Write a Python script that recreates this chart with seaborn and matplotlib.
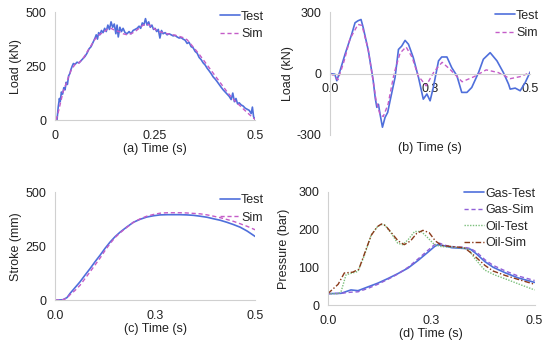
import matplotlib
matplotlib.use("Agg")
import matplotlib.pyplot as plt
import seaborn as sns
import pandas as pd

sns.set_style("white")
plt.rcParams['font.family'] = ['Liberation Sans', 'DejaVu Sans']
plt.rcParams['axes.unicode_minus'] = False

# ---- data ----
# (a) load
a_test_t = [0.005, 0.008, 0.011, 0.013, 0.016, 0.019, 0.022, 0.025, 0.028, 0.031, 0.034, 0.037,
            0.040, 0.043, 0.046, 0.050, 0.055, 0.060, 0.065, 0.070, 0.075, 0.080, 0.085, 0.090,
            0.095, 0.100, 0.103, 0.106, 0.109, 0.112, 0.116, 0.120, 0.124, 0.128, 0.132, 0.136,
            0.140, 0.144, 0.148, 0.152, 0.155, 0.158, 0.162, 0.166, 0.170, 0.175, 0.180, 0.185,
            0.190, 0.195, 0.200, 0.205, 0.210, 0.214, 0.218, 0.222, 0.226, 0.230, 0.234, 0.238,
            0.242, 0.246, 0.250, 0.254, 0.258, 0.262, 0.266, 0.270, 0.275, 0.280, 0.285, 0.290,
            0.295, 0.300, 0.305, 0.310, 0.315, 0.320, 0.325, 0.330, 0.335, 0.340, 0.345, 0.350,
            0.355, 0.360, 0.365, 0.370, 0.375, 0.380, 0.385, 0.390, 0.395, 0.400, 0.405, 0.410,
            0.415, 0.420, 0.425, 0.430, 0.435, 0.440, 0.444, 0.448, 0.452, 0.456, 0.460, 0.465,
            0.470, 0.475, 0.480, 0.485, 0.490, 0.493, 0.496, 0.499]
a_test = [0, 60, 100, 85, 130, 120, 150, 140, 175, 165, 205, 215,
          235, 250, 262, 258, 268, 265, 275, 285, 295, 310, 330, 340,
          360, 380, 395, 375, 405, 395, 415, 405, 425, 410, 440, 420,
          455, 430, 445, 400, 440, 385, 430, 410, 425, 405, 400, 410,
          400, 415, 420, 425, 435, 425, 450, 440, 470, 440, 455, 430,
          440, 420, 425, 410, 420, 380, 415, 400, 405, 395, 400, 395,
          390, 392, 385, 380, 382, 375, 370, 355, 360, 340, 335, 318,
          310, 290, 280, 265, 255, 240, 228, 215, 200, 190, 178, 165,
          152, 140, 130, 120, 110, 95, 125, 85, 100, 75, 80, 70,
          65, 55, 50, 45, 30, 60, 15, 5]
a_sim_t = [0.003, 0.01, 0.02, 0.03, 0.04, 0.05, 0.06, 0.07, 0.08, 0.09, 0.10, 0.11, 0.12,
           0.13, 0.14, 0.15, 0.16, 0.17, 0.18, 0.19, 0.20, 0.21, 0.22, 0.23, 0.24, 0.25,
           0.26, 0.27, 0.28, 0.29, 0.30, 0.31, 0.32, 0.33, 0.34, 0.35, 0.36, 0.37, 0.38,
           0.39, 0.40, 0.41, 0.42, 0.43, 0.44, 0.45, 0.46, 0.47, 0.48, 0.49, 0.50]
a_sim = [0, 50, 130, 180, 230, 258, 265, 285, 315, 345, 375, 395, 405,
         420, 425, 415, 410, 400, 395, 400, 410, 425, 440, 445, 435, 420,
         410, 405, 400, 397, 393, 388, 382, 372, 350, 328, 305, 280, 255,
         230, 205, 180, 155, 130, 108, 88, 70, 52, 35, 18, 3]

# (b) load
b_test_t = [0.0, 0.012, 0.017, 0.025, 0.0375, 0.054, 0.0625, 0.07, 0.0775, 0.083, 0.096, 0.108,
            0.113, 0.117, 0.121, 0.125, 0.131, 0.1375, 0.144, 0.15, 0.1625, 0.171, 0.179, 0.1875,
            0.196, 0.208, 0.221, 0.233, 0.242, 0.25, 0.258, 0.271, 0.279, 0.292, 0.304, 0.317,
            0.329, 0.342, 0.354, 0.371, 0.383, 0.4, 0.417, 0.433, 0.446, 0.45, 0.4625, 0.475,
            0.4875, 0.5]
b_test = [0, -3, -35, 13, 94, 191, 248, 258, 264, 224, 110, -36,
          -120, -165, -150, -198, -262, -214, -190, -133, -19, 118, 134, 162,
          143, 78, -19, -125, -100, -133, -68, 62, 81, 81, 29, -11,
          -92, -92, -68, 5, 70, 102, 62, 5, -52, -76, -71, -84,
          -44, 8]
b_sim_t = [0.0, 0.01, 0.02, 0.035, 0.05, 0.07, 0.08, 0.095, 0.105, 0.115, 0.125, 0.133,
           0.145, 0.16, 0.175, 0.19, 0.205, 0.22, 0.24, 0.26, 0.28, 0.3, 0.33, 0.36,
           0.39, 0.42, 0.45, 0.475, 0.5]
b_sim = [0, -10, -30, 60, 170, 240, 235, 120, 0, -130, -200, -210,
         -150, 0, 100, 130, 80, -10, -60, 10, 55, 20, -40, -15,
         18, 5, -25, -15, 5]

# (c) stroke
c_test_t = [0.0, 0.02, 0.03, 0.0375, 0.05, 0.0625, 0.075, 0.0875, 0.1, 0.1125, 0.125, 0.1375,
            0.15, 0.1625, 0.18, 0.196, 0.213, 0.229, 0.246, 0.2625, 0.28, 0.296, 0.313, 0.329,
            0.346, 0.3625, 0.38, 0.396, 0.413, 0.429, 0.446, 0.4625, 0.48, 0.5]
c_test = [0, 2, 12, 31, 58, 85, 116, 146, 178, 208, 240, 269,
          294, 315, 340, 361, 375, 385, 391, 395, 396, 396, 396, 395,
          393, 389, 384, 377, 370, 361, 350, 338, 320, 295]
c_sim_t = [0.0, 0.02, 0.03, 0.0375, 0.05, 0.0625, 0.075, 0.0875, 0.1, 0.1125, 0.125, 0.1375,
           0.15, 0.1625, 0.18, 0.196, 0.213, 0.229, 0.246, 0.2625, 0.28, 0.296, 0.313, 0.329,
           0.346, 0.3625, 0.38, 0.396, 0.413, 0.429, 0.446, 0.4625, 0.48, 0.5]
c_sim = [0, 2, 10, 25, 45, 69, 100, 131, 163, 195, 230, 262,
         290, 312, 338, 361, 377, 389, 397, 403, 405, 405, 405, 404,
         402, 400, 395, 389, 382, 374, 365, 354, 342, 326]

# (d) pressure
d_gas_test_t = [0.0, 0.032, 0.056, 0.073, 0.097, 0.121, 0.145, 0.169, 0.194, 0.218, 0.242,
                0.258, 0.266, 0.282, 0.3, 0.33, 0.345, 0.36, 0.38, 0.4, 0.43, 0.46, 0.5]
d_gas_test = [30, 31, 40, 38, 48, 58, 70, 83, 98, 118, 140,
              155, 160, 157, 152, 150, 148, 135, 115, 100, 85, 72, 60]
d_gas_sim_t = [0.0, 0.032, 0.056, 0.073, 0.097, 0.121, 0.145, 0.169, 0.194, 0.218, 0.242,
               0.258, 0.27, 0.285, 0.3, 0.33, 0.345, 0.36, 0.38, 0.4, 0.43, 0.46, 0.5]
d_gas_sim = [30, 31, 34, 35, 44, 55, 68, 82, 100, 122, 145,
             160, 164, 158, 155, 153, 150, 140, 120, 105, 90, 77, 65]
d_oil_test_t = [0.0, 0.025, 0.032, 0.044, 0.056, 0.073, 0.089, 0.105, 0.121, 0.129, 0.137,
                0.153, 0.169, 0.181, 0.194, 0.21, 0.226, 0.242, 0.258, 0.274, 0.306, 0.339,
                0.355, 0.379, 0.403, 0.435, 0.468, 0.5]
d_oil_test = [30, 30, 35, 80, 84, 89, 133, 186, 209, 213, 213,
              191, 164, 160, 173, 195, 195, 178, 160, 155, 153, 149,
              124, 93, 80, 67, 53, 40]
d_oil_sim_t = [0.0, 0.01, 0.025, 0.04, 0.06, 0.075, 0.09, 0.105, 0.12, 0.13, 0.14, 0.155,
               0.17, 0.185, 0.2, 0.215, 0.23, 0.245, 0.26, 0.275, 0.3, 0.33, 0.35, 0.38,
               0.4, 0.43, 0.46, 0.5]
d_oil_sim = [30, 40, 55, 85, 87, 95, 140, 185, 208, 215, 210, 190,
             170, 160, 170, 190, 198, 192, 170, 158, 155, 152, 135, 105,
             90, 78, 68, 55]

x_ticks = [0, 0.25, 0.5]
x_labels_a = ["0", "0.25", "0.5"]
x_labels = ["0.0", "0.3", "0.5"]

BLUE = "#4F6FDB"
MAGENTA = "#C45CC8"
PURPLE = "#9060D8"
GREEN = "#7CC07C"
BROWN = "#8B3A1A"
SPINE = "#D0D0D0"
FS = 9


def style_axis(ax, yticks, ylabel, xlabel, xlabels, ylim, ylabelpad=4):
    sns.despine(ax=ax)
    ax.spines['left'].set_color(SPINE)
    ax.spines['bottom'].set_color(SPINE)
    ax.set_xlim(0, 0.5)
    ax.set_ylim(*ylim)
    ax.set_xticks(x_ticks)
    ax.set_xticklabels(xlabels)
    ax.set_yticks(yticks)
    ax.tick_params(axis='x', length=0, labelsize=FS, colors="#222222", pad=7)
    ax.tick_params(axis='y', length=0, labelsize=FS, colors="#222222", pad=6)
    ax.set_ylabel(ylabel, fontsize=FS, color="#222222", labelpad=ylabelpad)
    ax.set_xlabel(xlabel, fontsize=FS, color="#222222", labelpad=1)


def legend(ax, anchor, spacing=0.3):
    ax.legend(loc="upper right", bbox_to_anchor=anchor, frameon=False, fontsize=FS,
              handlelength=1.6, handletextpad=0.1, borderaxespad=0, labelspacing=spacing)


fig = plt.figure(figsize=(5.5, 3.47), dpi=100)

# (a)
ax = fig.add_axes([0.1, 0.654, 0.364, 0.311])
sns.lineplot(x=a_test_t, y=a_test, ax=ax, color=BLUE, lw=1.2, label="Test")
sns.lineplot(x=a_sim_t, y=a_sim, ax=ax, color=MAGENTA, lw=1.0, ls=(0, (3, 2)), label="Sim")
style_axis(ax, [0, 250, 500], "Load (kN)", "(a) Time (s)", x_labels_a, (0, 500), 3)
legend(ax, (1.07, 1.06), 0.45)

# (b)
ax = fig.add_axes([0.6, 0.611, 0.364, 0.354])
sns.lineplot(x=b_test_t, y=b_test, ax=ax, color=BLUE, lw=1.2, label="Test")
sns.lineplot(x=b_sim_t, y=b_sim, ax=ax, color=MAGENTA, lw=1.0, ls=(0, (3, 2)), label="Sim")
style_axis(ax, [-300, 0, 300], "Load (kN)", "(b) Time (s)", x_labels, (-300, 300), 2)
ax.spines['bottom'].set_position(('data', 0))
ax.xaxis.set_label_coords(0.5, -0.06)
legend(ax, (1.07, 1.06), 0.45)

# (c)
ax = fig.add_axes([0.1, 0.135, 0.364, 0.311])
sns.lineplot(x=c_test_t, y=c_test, ax=ax, color=BLUE, lw=1.2, label="Test")
sns.lineplot(x=c_sim_t, y=c_sim, ax=ax, color=MAGENTA, lw=1.0, ls=(0, (3, 2)), label="Sim")
style_axis(ax, [0, 250, 500], "Stroke (mm)", "(c) Time (s)", x_labels, (0, 500), 3)
legend(ax, (1.07, 1.03), 0.45)

# (d)
ax = fig.add_axes([0.596, 0.121, 0.376, 0.326])
sns.lineplot(x=d_gas_test_t, y=d_gas_test, ax=ax, color=BLUE, lw=1.2, label="Gas-Test")
sns.lineplot(x=d_gas_sim_t, y=d_gas_sim, ax=ax, color=PURPLE, lw=1.0, ls=(0, (3, 2)), label="Gas-Sim")
sns.lineplot(x=d_oil_test_t, y=d_oil_test, ax=ax, color=GREEN, lw=1.0, ls=(0, (1, 1)), label="Oil-Test")
sns.lineplot(x=d_oil_sim_t, y=d_oil_sim, ax=ax, color=BROWN, lw=1.0, ls=(0, (4, 1.5, 1, 1.5)), label="Oil-Sim")
style_axis(ax, [0, 100, 200, 300], "Pressure (bar)", "(d) Time (s)", x_labels, (0, 300), 6)
legend(ax, (1.03, 1.08), 0.35)

fig.savefig("out.png", dpi=100)
